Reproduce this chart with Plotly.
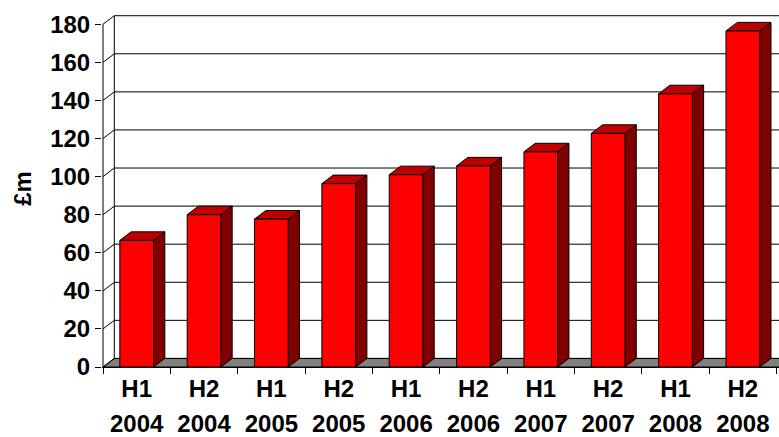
import plotly.graph_objects as go

# ---------------- data ----------------
periods = ["H1", "H2", "H1", "H2", "H1", "H2", "H1", "H2", "H1", "H2"]
years = ["2004", "2004", "2005", "2005", "2006", "2006", "2007", "2007", "2008", "2008"]
values = [66.5, 80.0, 77.7, 96.3, 101.0, 105.6, 113.0, 122.7, 143.5, 176.5]
y_ticks = [0, 20, 40, 60, 80, 100, 120, 140, 160, 180]
y_title = "£m"

categories = [f"{p} {y}" for p, y in zip(periods, years)]
idx = list(range(len(values)))

# ---------------- geometry / style ----------------
BAR_W = 0.5          # bar width in category units
DX = 0.168           # 3-D depth offset, category units
DY = 4.5             # 3-D depth offset, value units
X_MIN, X_MAX = -0.5148, 9.537
Y_MAX = 187.5
FONT = "Liberation Sans"
FRONT, TOP, SIDE = "#FF0000", "#C00000", "#800000"

fig = go.Figure()

# floor
fl_x = [-0.5, X_MAX + 1, X_MAX + 1 + DX, -0.5 + DX, -0.5]
fl_y = [0, 0, DY, DY, 0]
fig.add_trace(go.Scatter(x=fl_x, y=fl_y, fill="toself", fillcolor="#808080",
                         mode="lines", line=dict(color="black", width=1),
                         hoverinfo="skip", showlegend=False))

# back wall gridlines + left wall diagonals
gx, gy = [], []
for v in y_ticks:
    gx += [-0.5, -0.5 + DX, X_MAX + 1, None]
    gy += [v, v + DY, v + DY, None]
# left wall back edge and front axis line
gx += [-0.5 + DX, -0.5 + DX, None, -0.5, -0.5, None]
gy += [DY, y_ticks[-1] + DY, None, 0, y_ticks[-1], None]
fig.add_trace(go.Scatter(x=gx, y=gy, mode="lines",
                         line=dict(color="black", width=1),
                         hoverinfo="skip", showlegend=False))

# bar side faces and top faces
sx, sy, tx, ty = [], [], [], []
for i, v in zip(idx, values):
    r = i + BAR_W / 2
    l = i - BAR_W / 2
    sx += [r, r, r + DX, r + DX, r, None]
    sy += [0, v, v + DY, DY, 0, None]
    tx += [l, r, r + DX, l + DX, l, None]
    ty += [v, v, v + DY, v + DY, v, None]
fig.add_trace(go.Scatter(x=sx, y=sy, fill="toself", fillcolor=SIDE, mode="lines",
                         line=dict(color="black", width=1),
                         hoverinfo="skip", showlegend=False))
fig.add_trace(go.Scatter(x=tx, y=ty, fill="toself", fillcolor=TOP, mode="lines",
                         line=dict(color="black", width=1),
                         hoverinfo="skip", showlegend=False))

# bar front faces
fig.add_trace(go.Bar(x=categories, y=values, width=BAR_W, xaxis="x2", yaxis="y",
                     marker=dict(color=FRONT, line=dict(color="black", width=1)),
                     showlegend=False))

tickfont = dict(family=FONT, size=24, color="black", weight="bold")

fig.update_layout(
    width=779, height=437,
    margin=dict(l=102, r=0, t=10, b=70),
    paper_bgcolor="white", plot_bgcolor="white",
    xaxis=dict(range=[X_MIN, X_MAX], showgrid=False, zeroline=False,
               showline=True, linecolor="black", linewidth=1,
               tickmode="array", tickvals=idx, ticktext=years, ticks="",
               tickfont=tickfont, ticklabelstandoff=35),
    xaxis2=dict(type="category", overlaying="x", anchor="y", side="bottom",
                range=[X_MIN, X_MAX], showgrid=False, zeroline=False,
                showline=False, tickmode="array", tickvals=categories,
                ticktext=periods, tickson="boundaries", ticks="outside",
                ticklen=6, tickcolor="black", tickfont=tickfont,
                ticklabelstandoff=5),
    yaxis=dict(range=[0, Y_MAX], showgrid=False, zeroline=False, showline=False,
               tickmode="array", tickvals=y_ticks, ticks="outside", ticklen=6,
               tickcolor="black", tickfont=tickfont,
               title=dict(text=y_title, font=tickfont, standoff=11)),
    bargap=0.5,
)

fig.write_html("out.html")
